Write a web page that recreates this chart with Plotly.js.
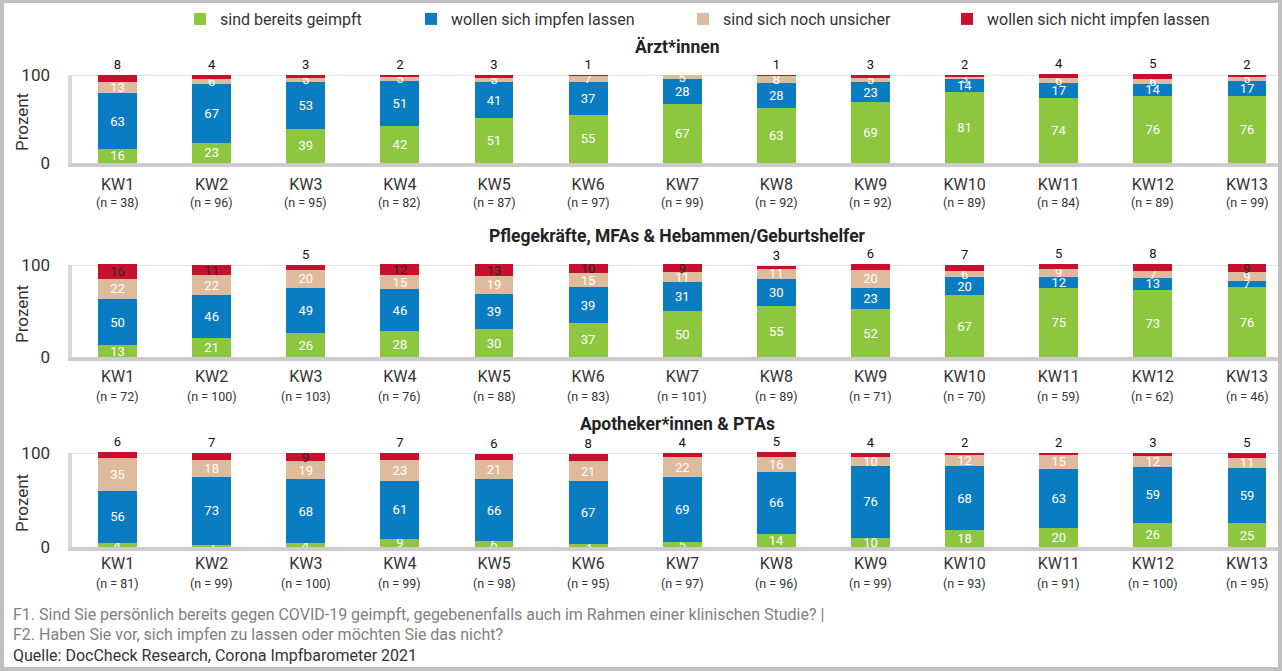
<!DOCTYPE html>
<html>
<head>
<meta charset="utf-8">
<script src="https://cdn.plot.ly/plotly-3.0.1.min.js"></script>
<style>
html,body{margin:0;padding:0;background:#fff;}
#chart{width:1282px;height:671px;}
</style>
</head>
<body>
<div id="chart"></div>
<script>
// ---- data ----
const weeks = ['KW1','KW2','KW3','KW4','KW5','KW6','KW7','KW8','KW9','KW10','KW11','KW12','KW13'];
const seriesNames = ['sind bereits geimpft','wollen sich impfen lassen','sind sich noch unsicher','wollen sich nicht impfen lassen'];
const seriesColors = ['#8DC63F','#0A7CC2','#DDBB9C','#C8102E'];
const panelTitles = ['Ärzt*innen','Pflegekräfte, MFAs & Hebammen/Geburtshelfer','Apotheker*innen & PTAs'];

// Ärzt*innen
const aerzteGeimpft   = [16,23,39,42,51,55,67,63,69,81,74,76,76];
const aerzteWollen    = [63,67,53,51,41,37,28,28,23,14,17,14,17];
const aerzteUnsicher  = [13,6,5,5,5,7,5,8,5,3,6,6,5];
const aerzteNicht     = [8,4,3,2,3,1,0,1,3,2,4,5,2];
const aerzteN         = [38,96,95,82,87,97,99,92,92,89,84,89,99];

// Pflegekräfte, MFAs & Hebammen/Geburtshelfer
const pflegeGeimpft   = [13,21,26,28,30,37,50,55,52,67,75,73,76];
const pflegeWollen    = [50,46,49,46,39,39,31,30,23,20,12,13,7];
const pflegeUnsicher  = [22,22,20,15,19,15,11,11,20,6,9,7,9];
const pflegeNicht     = [16,11,5,12,13,10,9,3,6,7,5,8,9];
const pflegeN         = [72,100,103,76,88,83,101,89,71,70,59,62,46];

// Apotheker*innen & PTAs
const apoGeimpft      = [4,2,4,9,6,3,5,14,10,18,20,26,25];
const apoWollen       = [56,73,68,61,66,67,69,66,76,68,63,59,59];
const apoUnsicher     = [35,18,19,23,21,21,22,16,10,12,15,12,11];
const apoNicht        = [6,7,9,7,6,8,4,5,4,2,2,3,5];
const apoN            = [81,99,100,99,98,95,97,96,99,93,91,100,95];

const panels = [
  {series:[aerzteGeimpft,aerzteWollen,aerzteUnsicher,aerzteNicht], n:aerzteN},
  {series:[pflegeGeimpft,pflegeWollen,pflegeUnsicher,pflegeNicht], n:pflegeN},
  {series:[apoGeimpft,apoWollen,apoUnsicher,apoNicht], n:apoN}
];

// ---- layout geometry (pixels) ----
const W = 1282, H = 671;
const FONT = 'Roboto, "Noto Sans", sans-serif';
const top100Px  = [75, 265, 453];
const zeroPx    = [163, 357, 547];
const titlePx   = [47, 236, 424];
const nLabelPx  = [202, 396, 583];
const tickStandoff = [6, 4, 1];
const legendTextStart = [220, 451, 723, 987];
const Y_MIN = -4.5, Y_MAX = 102;
const py = v => 1 - v / H;
const px = v => v / W;

const traces = [];
const legendIds = ['legend','legend2','legend3','legend4'];
panels.forEach((p, pi) => {
  const sfx = pi === 0 ? '' : String(pi + 1);
  p.series.forEach((vals, si) => {
    const isTop = si === 3;
    traces.push({
      type: 'bar',
      x: weeks,
      y: vals,
      xaxis: 'x' + sfx,
      yaxis: 'y' + sfx,
      name: seriesNames[si],
      legend: legendIds[si],
      legendgroup: 's' + si,
      showlegend: pi === 0,
      marker: {color: seriesColors[si], line: {width: 0}},
      text: vals.map(v => v > 0 ? String(v) : ''),
      textposition: isTop ? vals.map(v => v >= 9 ? 'inside' : 'outside') : 'inside',
      insidetextanchor: 'middle',
      textangle: 0,
      constraintext: 'none',
      cliponaxis: false,
      insidetextfont: {family: FONT, size: 13, color: isTop ? '#2a2a2a' : '#ffffff'},
      outsidetextfont: {family: FONT, size: 14, color: '#111111'},
      hoverinfo: 'skip'
    });
  });
});

const layout = {
  width: W, height: H,
  margin: {l: 0, r: 0, t: 0, b: 0},
  paper_bgcolor: '#ffffff',
  plot_bgcolor: 'rgba(0,0,0,0)',
  barmode: 'stack',
  bargap: 0.586,
  font: {family: FONT, color: '#333333', size: 15},
  uniformtext: {mode: 'show', minsize: 13},
  annotations: [],
  shapes: []
};

legendIds.forEach((id, i) => {
  layout[id] = {
    orientation: 'h',
    x: px(legendTextStart[i] - 40), xanchor: 'left',
    y: py(19), yanchor: 'middle',
    bgcolor: 'rgba(0,0,0,0)',
    font: {family: FONT, size: 16, color: '#333333'}
  };
});

panels.forEach((p, pi) => {
  const sfx = pi === 0 ? '' : String(pi + 1);
  const unit = (zeroPx[pi] - top100Px[pi]) / 100;
  const domBottomPx = zeroPx[pi] - Y_MIN * unit;
  const domTopPx = top100Px[pi] - (Y_MAX - 100) * unit;
  layout['xaxis' + sfx] = {
    domain: [px(68), px(1279)],
    anchor: 'y' + sfx,
    type: 'category',
    range: [-0.526, 12.34],
    tickvals: weeks,
    ticktext: weeks,
    ticks: '',
    ticklabelstandoff: tickStandoff[pi],
    showline: false, showgrid: false, zeroline: false,
    tickfont: {family: FONT, size: 16, color: '#333333'},
    fixedrange: true
  };
  layout['yaxis' + sfx] = {
    domain: [py(domBottomPx), py(domTopPx)],
    anchor: 'x' + sfx,
    range: [Y_MIN, Y_MAX],
    tickvals: [0, 100],
    ticktext: ['0', '100'],
    ticks: '',
    ticklabelstandoff: 17,
    showline: false, zeroline: false,
    showgrid: true, gridcolor: '#e4e4e4', gridwidth: 1,
    tickfont: {family: FONT, size: 17, color: '#333333'},
    fixedrange: true
  };
  // floor & wall
  layout.shapes.push({type: 'rect', xref: 'x' + sfx + ' domain', yref: 'y' + sfx, x0: 0, x1: 1, y0: Y_MIN, y1: 0,
                      fillcolor: '#cccccc', line: {width: 0}, layer: 'above'});
  layout.shapes.push({type: 'rect', xref: 'x' + sfx + ' domain', yref: 'y' + sfx, x0: 0, x1: 4 / 1211, y0: 0, y1: 100,
                      fillcolor: '#d9d9d9', line: {width: 0}, layer: 'above'});
  // y axis title
  layout.annotations.push({xref: 'paper', yref: 'paper', x: px(22), y: py((top100Px[pi] + zeroPx[pi]) / 2 + 3),
    xanchor: 'center', yanchor: 'middle', showarrow: false, textangle: -90,
    text: 'Prozent', font: {family: FONT, size: 17, color: '#333333'}});
  // panel title
  layout.annotations.push({xref: 'paper', yref: 'paper', x: px(677), y: py(titlePx[pi]),
    xanchor: 'center', yanchor: 'middle', showarrow: false,
    text: '<b>' + panelTitles[pi] + '</b>', font: {family: FONT, size: 17.5, color: '#222222'}});
  // n labels
  weeks.forEach((w, i) => {
    layout.annotations.push({xref: 'x' + sfx, yref: 'paper', x: w, y: py(nLabelPx[pi]),
      xanchor: 'center', yanchor: 'middle', showarrow: false,
      text: '(n = ' + p.n[i] + ')', font: {family: FONT, size: 12.5, color: '#333333'}});
  });
});

// footer
const footerLines = [
  {t: 'F1. Sind Sie persönlich bereits gegen COVID-19 geimpft, gegebenenfalls auch im Rahmen einer klinischen Studie? |', y: 614, c: '#808080'},
  {t: 'F2. Haben Sie vor, sich impfen zu lassen oder möchten Sie das nicht?', y: 634, c: '#808080'},
  {t: 'Quelle: DocCheck Research, Corona Impfbarometer 2021', y: 655, c: '#333333'}
];
footerLines.forEach(f => {
  layout.annotations.push({xref: 'paper', yref: 'paper', x: px(11), y: py(f.y),
    xanchor: 'left', yanchor: 'middle', showarrow: false,
    text: f.t, font: {family: FONT, size: 16, color: f.c}});
});

// outer frame
const frameColor = '#c0c0c0';
layout.shapes.push({type:'rect', xref:'paper', yref:'paper', x0:0, x1:px(4), y0:0, y1:1, fillcolor:frameColor, line:{width:0}});
layout.shapes.push({type:'rect', xref:'paper', yref:'paper', x0:px(1278), x1:1, y0:0, y1:1, fillcolor:frameColor, line:{width:0}});
layout.shapes.push({type:'rect', xref:'paper', yref:'paper', x0:0, x1:1, y0:py(3), y1:1, fillcolor:frameColor, line:{width:0}});
layout.shapes.push({type:'rect', xref:'paper', yref:'paper', x0:0, x1:1, y0:0, y1:py(667), fillcolor:frameColor, line:{width:0}});

Plotly.newPlot('chart', traces, layout, {displayModeBar: false, staticPlot: true});
</script>
</body>
</html>
